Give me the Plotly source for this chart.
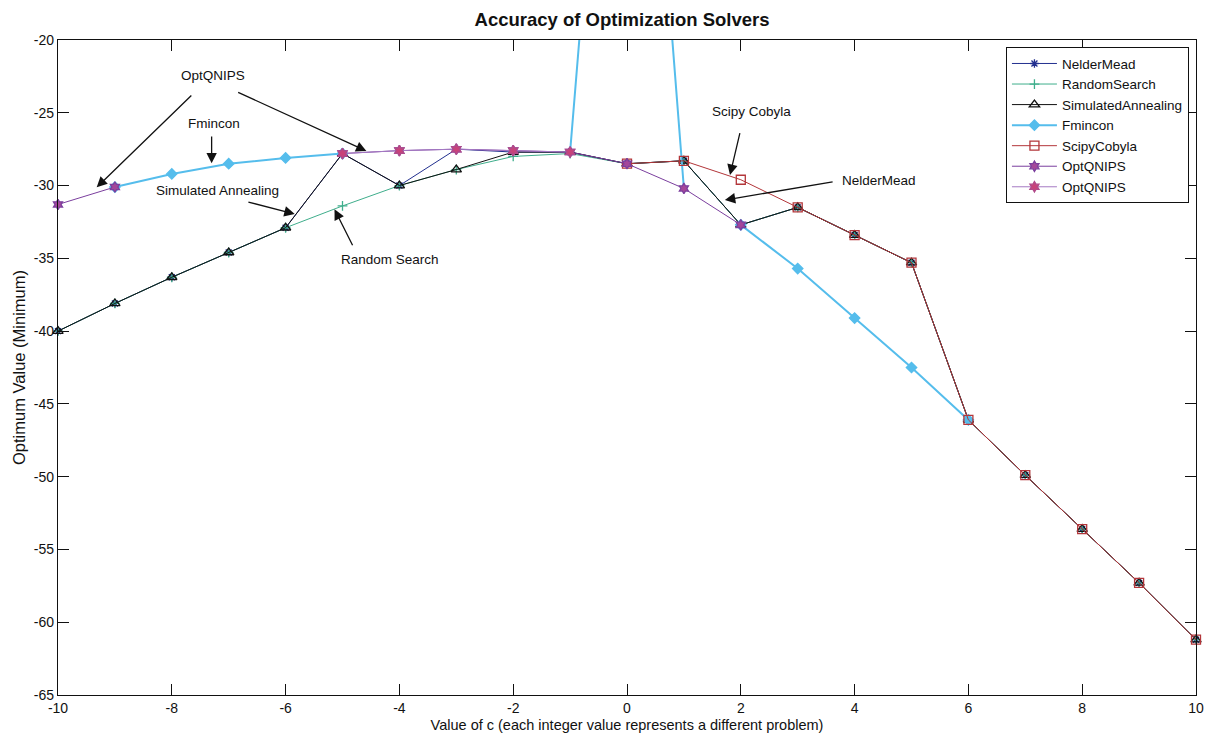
import plotly.graph_objects as go

# Problem index c (one problem per integer value)
c_values = list(range(-10, 11))

# Optimum found by each solver (None = no result for that problem)
nelder_mead = [-40.0, -38.1, -36.3, -34.6, -32.9, -27.8, -30.0, -27.5, -27.7, -27.7, -28.5,
               -28.3, -32.7, -31.5, -33.4, -35.3, -46.1, -49.9, -53.6, -57.3, -61.2]
random_search = [-40.0, -38.1, -36.3, -34.6, -32.9, -31.4, -30.0, -28.9, -28.0, -27.8, -28.5,
                 -28.3, -32.7, -31.5, -33.4, -35.3, -46.1, -49.9, -53.6, -57.3, -61.2]
simulated_annealing = [-40.0, -38.1, -36.3, -34.6, -32.9, -27.8, -30.0, -28.9, -27.7, -27.7, -28.5,
                       -28.3, -32.7, -31.5, -33.4, -35.3, -46.1, -49.9, -53.6, -57.3, -61.2]
fmincon = [None, -30.1, -29.2, -28.5, -28.1, -27.8, None, None, None, None, None,
           None, -32.7, -35.7, -39.1, -42.5, -46.1, None, None, None, None]
# Fmincon blow-up around c = 0
fmincon_spike_c = [-1, 0, 1]
fmincon_spike = [-27.7, 20.0, -30.2]
scipy_cobyla = [None, None, None, None, None, None, None, None, None, None, -28.5,
                -28.3, -29.6, -31.5, -33.4, -35.3, -46.1, -49.9, -53.6, -57.3, -61.2]
optqnips_a = [-31.3, -30.1, None, None, None, -27.8, -27.6, -27.5, -27.6, -27.7, -28.5,
              -30.2, -32.7, None, None, None, None, None, None, None, None]
optqnips_b = [None, None, None, None, None, -27.8, -27.6, -27.5, -27.6, -27.7, None,
              None, None, None, None, None, None, None, None, None, None]

x_ticks = [-10, -8, -6, -4, -2, 0, 2, 4, 6, 8, 10]
y_ticks = [-65, -60, -55, -50, -45, -40, -35, -30, -25, -20]

FONT = "Liberation Sans, Arial, sans-serif"

fig = go.Figure()


def add_series(name, x, y, color, symbol, size, width=1.0, mcolor=None, mline=None,
               mode="lines+markers", showlegend=True, rank=None):
    fig.add_trace(go.Scatter(
        x=x, y=y, name=name, mode=mode,
        line=dict(color=color, width=width),
        marker=dict(symbol=symbol, size=size,
                    color=mcolor if mcolor else color,
                    line=dict(color=mline if mline else color, width=1.3)),
        connectgaps=False, cliponaxis=False, showlegend=showlegend,
        legendrank=rank if rank else 1000,
    ))


add_series("NelderMead", c_values, nelder_mead, "#22308f", "asterisk-open", 7, rank=1)
add_series("RandomSearch", c_values, random_search, "#3fae8c", "cross-thin-open", 7, rank=2)
add_series("SimulatedAnnealing", c_values, simulated_annealing, "#111111", "triangle-up-open", 9, rank=3)
add_series("Fmincon", c_values, fmincon, "#55bdec", "diamond", 8, width=2.0, rank=4)
fig.add_trace(go.Scatter(
    x=fmincon_spike_c, y=fmincon_spike, mode="lines", showlegend=False,
    line=dict(color="#55bdec", width=2.0), cliponaxis=True,
))
add_series("ScipyCobyla", c_values, scipy_cobyla, "#b3363a", "square-open", 9, rank=5)
add_series("OptQNIPS", c_values, optqnips_a, "#7b3f9e", "hexagram", 8,
           mcolor="#a4479a", mline="#7b3f9e", rank=6)
add_series("OptQNIPS", c_values, optqnips_b, "#a57ac4", "hexagram", 8,
           mcolor="#c8437a", mline="#b04a8a", rank=7)

# Callout labels and arrows: (text, text_x, text_y, [(tail_x, tail_y, tip_x, tip_y), ...])
callouts = [
    ("OptQNIPS", -7.28, -22.47, [(-7.63, -23.71, -9.32, -30.12), (-6.86, -23.55, -4.58, -27.63)]),
    ("Fmincon", -7.26, -25.72, [(-7.30, -26.53, -7.30, -28.47)]),
    ("Simulated Annealing", -7.20, -30.35, [(-6.68, -31.11, -5.84, -31.95)]),
    ("Random Search", -4.16, -35.05, [(-4.81, -34.20, -5.14, -31.63)]),
    ("Scipy Cobyla", 2.19, -24.93, [(1.99, -26.30, 1.81, -29.27)]),
    ("NelderMead", 4.43, -29.62, [(3.64, -29.73, 1.72, -30.99)]),
]
for text, tx, ty, arrows in callouts:
    fig.add_annotation(x=tx, y=ty, xref="x", yref="y", text=text, showarrow=False,
                       font=dict(family=FONT, size=13.5, color="#111111"))
    for ax, ay, hx, hy in arrows:
        fig.add_annotation(x=hx, y=hy, ax=ax, ay=ay, xref="x", yref="y", axref="x", ayref="y",
                           text="", showarrow=True, arrowhead=2, arrowsize=1.6,
                           arrowwidth=1.3, arrowcolor="#111111", standoff=0, startstandoff=0)

axis_common = dict(
    showgrid=False, zeroline=False, showline=True, linecolor="#111111", linewidth=1.3,
    mirror="allticks", ticks="inside", ticklen=11, tickwidth=1.2, tickcolor="#111111",
    tickfont=dict(family=FONT, size=14, color="#111111"), automargin=False,
)

fig.update_layout(
    width=1206, height=739,
    margin=dict(l=58, r=10, t=40, b=44),
    paper_bgcolor="white", plot_bgcolor="white",
    title=dict(text="Accuracy of Optimization Solvers", x=0.5158, xanchor="center",
               y=0.973, yanchor="middle",
               font=dict(family=FONT, size=18.5, color="#111111", weight="bold")),
    xaxis=dict(range=[-10, 10], tickvals=x_ticks, ticktext=[str(v) for v in x_ticks],
               title=dict(text="Value of c (each integer value represents a different problem)",
                          font=dict(family=FONT, size=14.5, color="#111111"), standoff=4),
               **axis_common),
    yaxis=dict(range=[-65, -20], tickvals=y_ticks, ticktext=[str(v) for v in y_ticks],
               title=dict(text="Optimum Value (Minimum)",
                          font=dict(family=FONT, size=16.5, color="#111111"), standoff=4),
               **axis_common),
    legend=dict(x=0.9938, y=0.989, xanchor="right", yanchor="top",
                bgcolor="white", bordercolor="#111111", borderwidth=1,
                font=dict(family=FONT, size=13.5, color="#111111"),
                tracegroupgap=0, itemwidth=45),
    showlegend=True,
)

fig.write_html("out.html")
